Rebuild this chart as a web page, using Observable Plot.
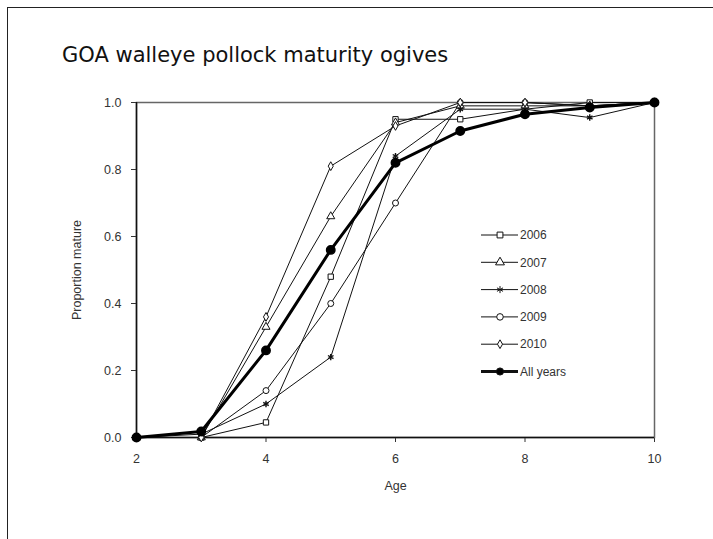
<!DOCTYPE html>
<html>
<head>
<meta charset="utf-8">
<script src="https://cdn.jsdelivr.net/npm/d3@7"></script>
<script src="https://cdn.jsdelivr.net/npm/@observablehq/plot@0.6"></script>
<style>
  html, body { margin: 0; padding: 0; background: #fff; }
  #page { position: relative; width: 713px; height: 539px; overflow: hidden; background: #fff; }
  #frame { position: absolute; left: 7px; top: 7px; width: 760px; height: 600px; z-index: 2;
           pointer-events: none; border-left: 1.5px solid #222; border-top: 1.5px solid #222; }
  #title { position: absolute; left: 62px; top: 43px; font-family: "DejaVu Sans", sans-serif;
           font-size: 21px; color: #111; white-space: nowrap; }
  #chart { position: absolute; left: 0; top: 80px; }
</style>
</head>
<body>
<div id="page">
  <div id="frame"></div>
  <div id="title">GOA walleye pollock maturity ogives</div>
  <div id="chart"></div>
</div>
<script>
const ages = [2, 3, 4, 5, 6, 7, 8, 9, 10];
const seriesNames = ["2006", "2007", "2008", "2009", "2010"];
const v2006 = [0, 0, 0.045, 0.48, 0.95, 0.95, 0.98, 1.0, 1.0];
const v2007 = [0, 0, 0.33, 0.66, 0.94, 0.99, 0.99, 0.99, 1.0];
const v2008 = [0, 0.01, 0.10, 0.24, 0.84, 0.98, 0.98, 0.955, 1.0];
const v2009 = [0, 0, 0.14, 0.40, 0.70, 1.0, 1.0, 0.99, 1.0];
const v2010 = [0, 0, 0.36, 0.81, 0.93, 1.0, 1.0, 0.99, 1.0];
const vAll  = [0, 0.018, 0.26, 0.56, 0.82, 0.915, 0.965, 0.985, 1.0];
const allLabel = "All years";
const symbolNames = ["square", "triangle", "asterisk", "circle", "diamond"];
const xTicks = [2, 4, 6, 8, 10];
const yTicks = [0, 0.2, 0.4, 0.6, 0.8, 1.0];

const seriesValues = [v2006, v2007, v2008, v2009, v2010];
const long = [];
seriesNames.forEach((s, i) => ages.forEach((a, j) => long.push({series: s, age: a, value: seriesValues[i][j]})));
const allData = ages.map((a, j) => ({age: a, value: vAll[j]}));

const font = "Liberation Sans, Arial, sans-serif";
const plot = Plot.plot({
  width: 713,
  height: 459,
  marginLeft: 136,
  marginRight: 59,
  marginTop: 22,
  marginBottom: 102,
  style: {fontFamily: font, fontSize: "12.5px", color: "#333", background: "transparent"},
  x: {domain: [2, 10], ticks: xTicks, tickSize: 5, tickPadding: 12, label: "Age",
      labelAnchor: "center", labelArrow: "none", labelOffset: 52},
  y: {domain: [0, 1], ticks: yTicks, tickFormat: d3.format(".1f"), tickSize: 5, tickPadding: 10,
      label: "Proportion mature", labelAnchor: "center", labelArrow: "none", labelOffset: 64},
  symbol: {domain: seriesNames, range: symbolNames},
  marks: [
    Plot.frame({stroke: "#666", strokeWidth: 1.5}),
    Plot.ruleX([2], {stroke: "#111", strokeWidth: 1.5}),
    Plot.ruleY([0], {stroke: "#111", strokeWidth: 1.5}),
    Plot.line(long, {x: "age", y: "value", z: "series", stroke: "#111", strokeWidth: 1}),
    Plot.line(allData, {x: "age", y: "value", stroke: "#000", strokeWidth: 3}),
    Plot.dot(long, {x: "age", y: "value", symbol: "series", fill: "white", stroke: "#111",
                    strokeWidth: d => d.series === "2008" ? 1.4 : 1,
                    r: d => d.series === "2010" ? 3.3 : 4.2}),
    Plot.dot(allData, {x: "age", y: "value", fill: "#000", stroke: "#000", r: 4.2})
  ]
});
document.getElementById("chart").appendChild(plot);

// Legend inside the plot
const svg = d3.select(plot);
const leg = svg.append("g").attr("font-family", font).attr("font-size", "12px")
  .attr("fill", "#333").attr("text-anchor", "start");
const legendItems = seriesNames.map((s, i) => ({label: s, sym: symbolNames[i], all: false}))
  .concat([{label: allLabel, sym: "circle", all: true}]);
const d3sym = {square: d3.symbolSquare, triangle: d3.symbolTriangle, asterisk: d3.symbolAsterisk,
               circle: d3.symbolCircle, diamond: d3.symbolDiamond};
legendItems.forEach((it, i) => {
  const y = 155 + i * 27.3;
  const g = leg.append("g").attr("transform", `translate(0,${y})`);
  g.append("line").attr("x1", 481).attr("x2", 518).attr("y1", 0).attr("y2", 0)
    .attr("stroke", "#111").attr("stroke-width", it.all ? 3 : 1);
  g.append("path").attr("transform", "translate(500,0)")
    .attr("d", d3.symbol(d3sym[it.sym], it.all ? 40 : (it.sym === "diamond" ? 22 : 34))())
    .attr("fill", it.all ? "#000" : "white").attr("stroke", "#111").attr("stroke-width", 1);
  g.append("text").attr("x", 520).attr("y", 0).attr("dy", "0.35em").attr("text-anchor", "start")
    .text(it.label);
});
</script>
</body>
</html>
